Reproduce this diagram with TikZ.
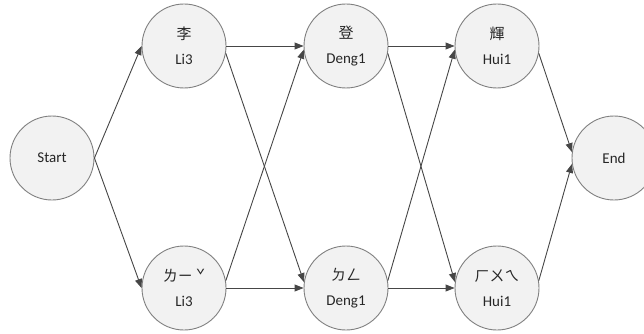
\documentclass[tikz,border=0pt]{standalone}
\usepackage{fontspec}
\setmainfont{Carlito}
\newfontfamily\cjk{Noto Sans CJK TC}
\usetikzlibrary{arrows.meta}
\definecolor{nodefill}{RGB}{242,242,242}
\definecolor{nodeline}{RGB}{128,128,128}
\definecolor{edgeline}{RGB}{70,70,70}
\tikzset{
  syl/.style={circle, minimum size=84pt, inner sep=0pt, draw=nodeline,
    line width=0.9pt, fill=nodefill, align=center, font=\fontsize{15}{25}\selectfont,
    text=black!85},
  link/.style={draw=edgeline, line width=0.9pt,
    -{Triangle[length=9pt,width=7pt]}}
}
\begin{document}
\begin{tikzpicture}[x=1pt,y=-1pt]
\useasboundingbox (0,0) rectangle (644,334);
\begin{scope}
\clip (0,0) rectangle (644,334);
\node[syl] (start) at (52,158) {Start};
\node[syl] (li)  at (184,46)  {{\cjk 李}\\Li3};
\node[syl] (lib) at (184,288) {{\cjk ㄌㄧ ˇ}\\Li3};
\node[syl] (deng)  at (346,46)  {{\cjk 登}\\Deng1};
\node[syl] (dengb) at (346,288) {{\cjk ㄉㄥ}\\Deng1};
\node[syl] (hui)  at (497,46)  {{\cjk 輝}\\Hui1};
\node[syl] (huib) at (497,288) {{\cjk ㄏㄨㄟ}\\Hui1};
\node[syl] (end) at (614,158) {End};

\draw[link] (start.east) -- (li.west);
\draw[link] (start.east) -- (lib.west);

\draw[link] (li.east) -- (deng.west);
\draw[link] (li.-10) -- (dengb.172);
\draw[link] (lib.10) -- (deng.185);
\draw[link] (lib.east) -- (dengb.west);

\draw[link] (deng.east) -- (hui.west);
\draw[link] (deng.-10) -- (huib.172);
\draw[link] (dengb.10) -- (hui.185);
\draw[link] (dengb.east) -- (huib.west);

\draw[link] (hui.-10) -- (end.172);
\draw[link] (huib.10) -- (end.188);
\end{scope}
\end{tikzpicture}
\end{document}
